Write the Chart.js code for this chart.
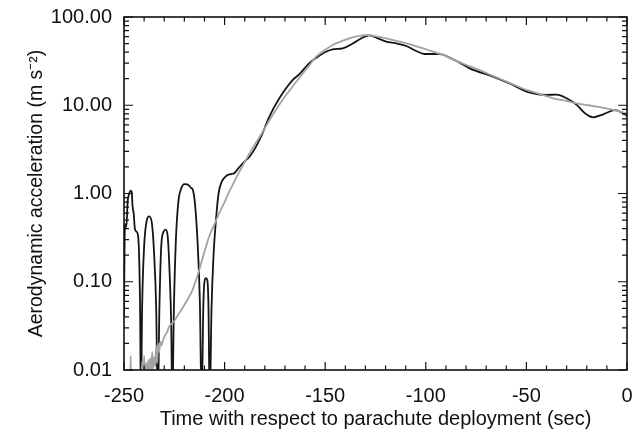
<!DOCTYPE html>
<html>
<head>
<meta charset="utf-8">
<script src="https://cdn.jsdelivr.net/npm/chart.js@4.4.1/dist/chart.umd.min.js"></script>
<style>
    body { margin: 0; background: #fff; }
    #wrap { width: 638px; height: 440px; }
</style>
</head>
<body>
<div id="wrap"><canvas id="accelChart" width="638" height="440"></canvas></div>
<script>
/* ===============================
   DATA
=================================*/

// measured acceleration (black)
const measuredTime = [
    -250, -249.7, -249.3, -248.8, -248.2, -247.4, -246.8, -246.2, -245.7, -245.2,
    -244.6, -243.8, -243.0, -242.5, -242.0, -241.6, -241.0, -240.0, -238.8, -237.5,
    -236.2, -235.0, -234.0, -233.2, -232.4, -231.5, -230.3, -229.3, -228.3, -227.3,
    -226.5, -226.0, -225.2, -224.2, -223.0, -221.5, -220.0, -218.5, -217.6, -216.5,
    -215.8, -214.8, -213.5, -212.3, -211.4, -210.6, -210.0, -209.3, -208.6, -208.0,
    -207.4, -206.5, -205.5, -204.3, -203.0, -201.5, -200.2, -198.5, -196.9, -195.2,
    -193, -191, -187.7, -185, -181.9, -177.8, -172.8, -166.2, -162.8, -157.9,
    -154, -149.6, -146.3, -141.3, -136.3, -131.3, -128, -123.8, -119.7, -114.7,
    -109.7, -104.7, -100.6, -93.1, -89.8, -83.2, -78.2, -66.6, -58, -49.9,
    -40, -35, -30, -25, -20.9, -16.8, -11.8, -6, -3.5, 0
];
const measuredAccel = [
    0.04, 0.3, 0.45, 0.42, 0.8, 1.0, 1.08, 1.05, 0.7, 0.6,
    0.4, 0.37, 0.33, 0.2, 0.05, 0.004, 0.05, 0.25, 0.48, 0.55,
    0.47, 0.2, 0.05, 0.004, 0.05, 0.25, 0.37, 0.39, 0.33, 0.12,
    0.03, 0.004, 0.05, 0.3, 0.8, 1.15, 1.28, 1.27, 1.22, 1.15,
    1.1, 0.8, 0.3, 0.06, 0.004, 0.05, 0.1, 0.11, 0.105, 0.05,
    0.004, 0.05, 0.2, 0.5, 1.0, 1.35, 1.5, 1.62, 1.66, 1.7,
    1.95, 2.2, 2.6, 3.2, 4.4, 7.4, 12, 19.3, 22.5, 30,
    35, 40.4, 43, 44.2, 50, 58.5, 62, 57.3, 52.6, 50.3,
    46.9, 41.2, 38.1, 38.1, 36.1, 30.4, 26.2, 21.1, 17.5, 14.3,
    13.1, 13.2, 12, 10.1, 8.1, 7.3, 7.9, 8.8, 8.45, 7.6
];

// modelled acceleration (grey)
const modelTime = [
    -247.0, -246.7, -246.4, -241.5, -241.0, -240.5, -240.0, -239.5, -239.0, -238.5,
    -238.0, -237.5, -237.0, -236.5, -236.0, -235.5, -235.0, -234.5, -234.0, -233.5,
    -233.0, -232.5, -232.0, -231.5, -230.5, -229.5, -228.5, -227.6, -226.5, -225,
    -223.5, -222.6, -221, -219.5, -217.6, -216, -214.5, -212.6, -210, -207.7,
    -205, -202.7, -200, -197.7, -196, -193, -189.4, -186, -182, -176.5,
    -171.2, -166, -162.8, -158, -154.5, -150, -146.3, -142, -138, -133,
    -128.8, -124, -119.7, -114.7, -109.7, -104.7, -99.8, -95, -89.8, -85,
    -79.8, -75, -66.6, -58, -49.9, -43, -36.7, -30, -25, -19,
    -13.4, -8, -5.1, -2, 0
];
const modelAccel = [
    0.005, 0.0145, 0.005, 0.005, 0.0125, 0.006, 0.0145, 0.008, 0.012, 0.007,
    0.013, 0.009, 0.0135, 0.009, 0.016, 0.010, 0.014, 0.011, 0.019, 0.012,
    0.02, 0.016, 0.021, 0.019, 0.022, 0.025, 0.027, 0.031, 0.033, 0.036,
    0.041, 0.044, 0.05, 0.057, 0.068, 0.08, 0.1, 0.136, 0.22, 0.324,
    0.45, 0.6, 0.8, 1.05, 1.25, 1.7, 2.4, 3.3, 4.6, 7.5,
    11.5, 16.5, 20.5, 28, 35.5, 42.5, 48.2, 53, 57.3, 61,
    62.5, 60, 57.3, 53.8, 50.3, 46.5, 43, 39.5, 36, 32,
    28.6, 26, 21.5, 17.8, 14.9, 13.3, 12, 11.2, 10.5, 10,
    9.5, 9, 8.67, 8.3, 7.9
];

// axis ticks
const xMajorTicks = [-250, -200, -150, -100, -50, 0];
const xMinorStep = 10;
const yMajorTicks = [0.01, 0.1, 1, 10, 100];

/* ===============================
   HELPERS
=================================*/

function toPoints(xs, ys) {
    return xs.map((x, i) => ({ x: x, y: ys[i] }));
}

// inward ticks on all four sides + frame
const frameTicks = {
    id: "frameTicks",
    afterDraw(chart) {
        const { ctx, chartArea: a, scales } = chart;
        const xs = scales.x, ys = scales.y;
        ctx.save();
        ctx.strokeStyle = "#111";
        ctx.lineWidth = 1.2;

        const vTick = (px, len) => {
            ctx.beginPath();
            ctx.moveTo(px, a.bottom); ctx.lineTo(px, a.bottom - len);
            ctx.moveTo(px, a.top); ctx.lineTo(px, a.top + len);
            ctx.stroke();
        };
        const hTick = (py, len) => {
            ctx.beginPath();
            ctx.moveTo(a.left, py); ctx.lineTo(a.left + len, py);
            ctx.moveTo(a.right, py); ctx.lineTo(a.right - len, py);
            ctx.stroke();
        };

        for (let v = xs.min; v <= xs.max + 1e-9; v += xMinorStep) {
            const major = xMajorTicks.includes(Math.round(v));
            vTick(xs.getPixelForValue(v), major ? 8 : 4.5);
        }
        yMajorTicks.forEach((d, i) => {
            hTick(ys.getPixelForValue(d), 9);
            if (i === yMajorTicks.length - 1) return;
            for (let k = 2; k <= 9; k++) hTick(ys.getPixelForValue(d * k), 5);
        });

        ctx.lineWidth = 1.6;
        ctx.strokeRect(a.left, a.top, a.right - a.left, a.bottom - a.top);
        ctx.restore();
    }
};

/* ===============================
   CHART
=================================*/

const FONT = "'Liberation Sans', Arial, sans-serif";

new Chart(document.getElementById("accelChart"), {
    type: "line",
    data: {
        datasets: [
            {
                label: "Model",
                data: toPoints(modelTime, modelAccel),
                borderColor: "#a3a3a3",
                borderWidth: 1.8,
                pointRadius: 0,
                cubicInterpolationMode: "monotone"
            },
            {
                label: "Measured",
                data: toPoints(measuredTime, measuredAccel),
                borderColor: "#151515",
                borderWidth: 1.8,
                pointRadius: 0,
                cubicInterpolationMode: "monotone"
            }
        ]
    },
    options: {
        responsive: false,
        animation: false,
        layout: { padding: { top: 17, right: 11, left: 0, bottom: 0 } },
        plugins: {
            legend: { display: false },
            tooltip: { enabled: false }
        },
        scales: {
            x: {
                type: "linear",
                min: -250,
                max: 0,
                grid: { display: false, drawTicks: false },
                border: { display: false },
                afterBuildTicks: s => { s.ticks = xMajorTicks.map(v => ({ value: v })); },
                afterFit: s => {
                    s.height = 70;
                    s.paddingLeft = 0;
                    s.paddingRight = 0;
                },
                ticks: {
                    padding: 14,
                    color: "#111",
                    font: { family: FONT, size: 20 },
                    maxRotation: 0
                },
                title: {
                    display: true,
                    text: "Time with respect to parachute deployment (sec)",
                    color: "#111",
                    font: { family: FONT, size: 20 },
                    padding: { top: 0, bottom: 9 }
                }
            },
            y: {
                type: "logarithmic",
                min: 0.01,
                max: 100,
                grid: { display: false, drawTicks: false },
                border: { display: false },
                afterBuildTicks: s => { s.ticks = yMajorTicks.map(v => ({ value: v })); },
                afterFit: s => {
                    s.width = 124;
                    s.paddingTop = 0;
                    s.paddingBottom = 0;
                },
                ticks: {
                    padding: 12,
                    color: "#111",
                    font: { family: FONT, size: 20 },
                    callback: v => Number(v).toFixed(2)
                },
                title: {
                    display: true,
                    text: "Aerodynamic acceleration (m s\u207B\u00B2)",
                    color: "#111",
                    font: { family: FONT, size: 19.5 },
                    padding: { top: 25, bottom: 0 }
                }
            }
        }
    },
    plugins: [frameTicks]
});
</script>
</body>
</html>
